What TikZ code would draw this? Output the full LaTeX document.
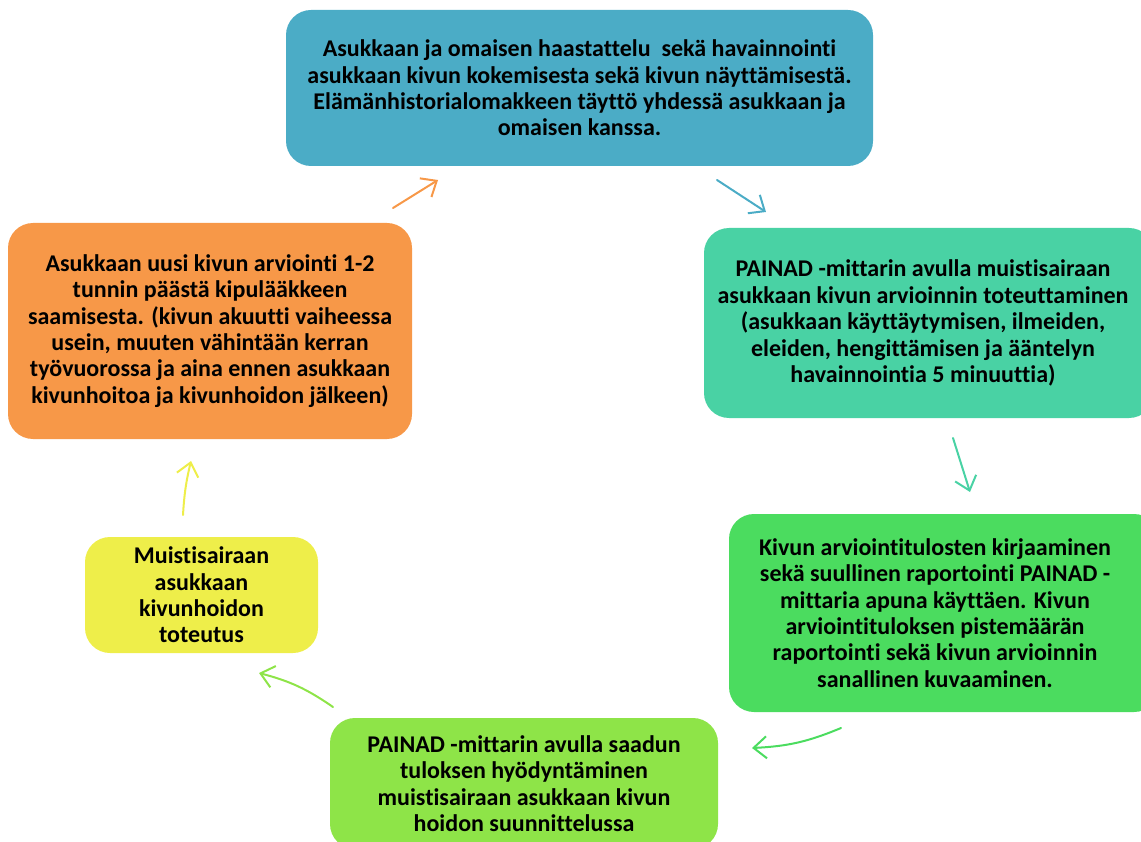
\documentclass[tikz,border=0pt]{standalone}
\usepackage{fontspec}
\setmainfont{Carlito}[Ligatures=NoCommon]
\usetikzlibrary{arrows.meta}
\usetikzlibrary{positioning}

\definecolor{haastBlue}{RGB}{75,172,198}
\definecolor{painadTeal}{RGB}{73,210,164}
\definecolor{kirjausGreen}{RGB}{75,220,95}
\definecolor{hoitoLime}{RGB}{142,228,72}
\definecolor{toteutusYellow}{RGB}{238,238,74}
\definecolor{uusiOrange}{RGB}{247,152,72}

\begin{document}
\begin{tikzpicture}[x=1pt, y=-1pt,
    vaihe/.style={rounded corners=25pt, inner sep=0pt, align=center,
      font=\fontsize{24}{26.4}\selectfont\bfseries},
    nuoli/.style={line width=2pt, line cap=round,
      -{Straight Barb[length=13pt, width=22pt, line width=2pt]}}]
      \clip (0,0) rectangle (1141,842);

      \node[vaihe, fill=haastBlue, minimum width=587pt, minimum height=156pt] (haastattelu) at (579.5,88)
        {Asukkaan ja omaisen haastattelu\ \ sekä havainnointi\\
         asukkaan kivun kokemisesta sekä kivun näyttämisestä.\\
         Elämänhistorialomakkeen täyttö yhdessä asukkaan ja\\
         omaisen kanssa.};
      \node[vaihe, fill=painadTeal, minimum width=450pt, minimum height=190pt] (arviointi) at (929,323)
        {\hspace*{-12pt}PAINAD -mittarin avulla muistisairaan\\
         \hspace*{-12pt}asukkaan kivun arvioinnin toteuttaminen\\
         \hspace*{-12pt}(asukkaan käyttäytymisen, ilmeiden,\\
         \hspace*{-12pt}eleiden, hengittämisen ja ääntelyn\\
         \hspace*{-12pt}havainnointia 5 minuuttia)};
      \node[vaihe, fill=kirjausGreen, minimum width=430pt, minimum height=198pt] (kirjaus) at (944,613)
        {\hspace*{-18pt}Kivun arviointitulosten kirjaaminen\\
         \hspace*{-18pt}sekä suullinen raportointi PAINAD -\\
         \hspace*{-18pt}mittaria apuna käyttäen. Kivun\\
         \hspace*{-18pt}arviointituloksen pistemäärän\\
         \hspace*{-18pt}raportointi sekä kivun arvioinnin\\
         \hspace*{-18pt}sanallinen kuvaaminen.};
      \node[vaihe, fill=hoitoLime, minimum width=388pt, minimum height=131pt] (suunnittelu) at (524,783.5)
        {PAINAD -mittarin avulla saadun\\
         tuloksen hyödyntäminen\\
         muistisairaan asukkaan kivun\\
         hoidon suunnittelussa};
      \node[vaihe, fill=toteutusYellow, minimum width=233pt, minimum height=116pt] (toteutus) at (201.5,595)
        {Muistisairaan\\ asukkaan\\ kivunhoidon\\ toteutus};
      \node[vaihe, fill=uusiOrange, minimum width=404pt, minimum height=216pt] (uusiarvio) at (210,331)
        {Asukkaan uusi kivun arviointi 1-2\\
         tunnin päästä kipulääkkeen\\
         saamisesta. (kivun akuutti vaiheessa\\
         usein, muuten vähintään kerran\\
         työvuorossa ja aina ennen asukkaan\\
         kivunhoitoa ja kivunhoidon jälkeen)};

      \coordinate (a1) at (393,208);  \coordinate (b1) at (438,180);
      \coordinate (a2) at (717,180);  \coordinate (b2) at (766,212);
      \coordinate (a3) at (953,438);  \coordinate (b3) at (970,492);
      \coordinate (a4) at (841,728);  \coordinate (b4) at (752,748);
      \coordinate (a5) at (333,707);  \coordinate (b5) at (259,673);
      \coordinate (a6) at (183,515);  \coordinate (b6) at (191,461);

      \draw[nuoli, uusiOrange] (a1) -- (b1);
      \draw[nuoli, haastBlue] (a2) -- (b2);
      \draw[nuoli, painadTeal] (a3) -- (b3);
      \draw[nuoli, kirjausGreen] (a4) to[bend left=10] (b4);
      \draw[nuoli, hoitoLime] (a5) to[bend right=10] (b5);
      \draw[nuoli, toteutusYellow] (a6) to[bend left=5] (b6);
    \end{tikzpicture}
\end{document}
